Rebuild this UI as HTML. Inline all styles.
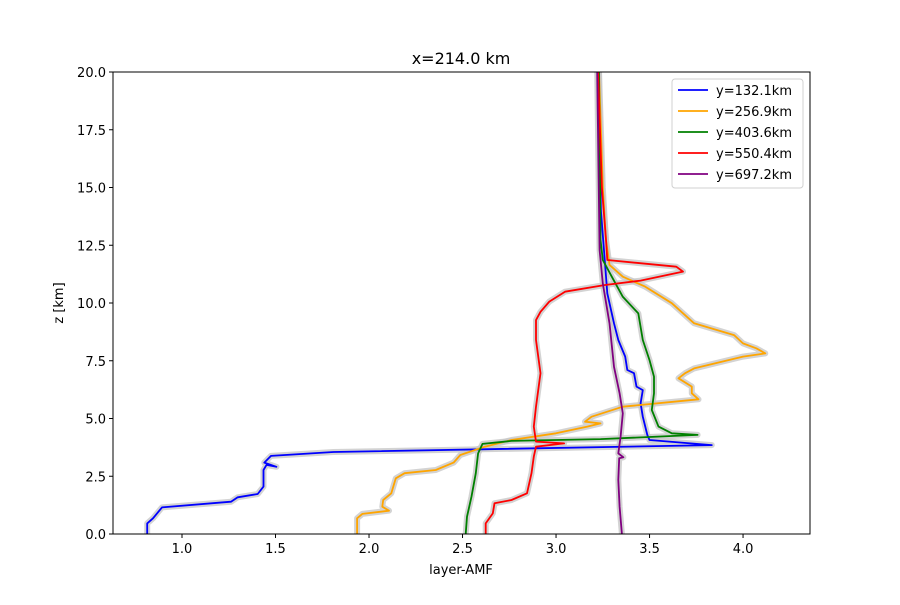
<!DOCTYPE html>
<html><head><meta charset="utf-8"><style>
body{margin:0;background:#fff;font-family:"Liberation Sans","DejaVu Sans",sans-serif;}
svg text{font-family:"DejaVu Sans","Liberation Sans",sans-serif;}
</style></head><body>
<svg id="chart" width="900" height="600" viewBox="0 0 900 600" xmlns="http://www.w3.org/2000/svg">
<rect width="900" height="600" fill="#fff"/>
<g id="plot"></g>
<g id="axes"></g>
<text x="461" y="64" text-anchor="middle" font-size="16">x=214.0 km</text>
<text x="461" y="574" text-anchor="middle" font-size="13">layer-AMF</text>
<text transform="translate(63,303) rotate(-90)" text-anchor="middle" font-size="13">z [km]</text>
<g id="legend"></g>
</svg>
<script>
const seriesNames=["y=132.1km","y=256.9km","y=403.6km","y=550.4km","y=697.2km"];
const seriesColors=["blue","orange","green","red","purple"];
const blueAmf=[0.814,0.814,0.845,0.893,1.262,1.298,1.405,1.436,1.436,1.452,1.505,1.44,1.476,1.81,3.833,3.5,3.488,3.464,3.452,3.464,3.43,3.417,3.381,3.37,3.333,3.31,3.274,3.262,3.24,3.228];
const blueZ=[0,0.46,0.68,1.15,1.40,1.59,1.73,2.05,2.77,2.99,2.91,3.09,3.38,3.55,3.85,4.07,4.29,5.08,5.66,6.23,6.38,6.96,7.10,7.68,8.40,9.12,10.42,11.72,14,20];
const orangeAmf=[1.936,1.936,1.964,2.107,2.071,2.076,2.119,2.143,2.19,2.357,2.452,2.488,2.619,2.762,3.0,3.167,3.238,3.155,3.19,3.357,3.762,3.726,3.726,3.655,3.69,3.738,4.0,4.119,4.071,4.0,3.952,3.738,3.619,3.476,3.357,3.286,3.267,3.25,3.23];
const orangeZ=[0,0.68,0.87,1.01,1.18,1.47,1.76,2.41,2.63,2.77,3.09,3.42,3.78,4.07,4.36,4.65,4.79,4.86,5.08,5.51,5.83,6.09,6.38,6.74,6.96,7.17,7.68,7.82,8.04,8.25,8.61,9.12,9.99,10.71,11.14,11.65,12.73,15,20];
const greenAmf=[2.517,2.524,2.548,2.571,2.583,2.607,2.762,3.238,3.757,3.619,3.548,3.512,3.524,3.524,3.5,3.464,3.44,3.357,3.298,3.25,3.238,3.23];
const greenZ=[0,0.75,1.62,2.63,3.49,3.90,4.03,4.11,4.29,4.36,4.65,5.37,6.09,6.81,7.53,8.40,9.55,10.27,11.14,11.86,12.73,20];
const redAmf=[2.624,2.624,2.662,2.671,2.762,2.845,2.869,2.881,2.893,3.043,2.893,2.881,2.893,2.917,2.893,2.893,2.917,2.964,3.048,3.262,3.452,3.679,3.643,3.274,3.267,3.245,3.225];
const redZ=[0,0.46,0.89,1.33,1.47,1.76,2.63,3.35,3.78,3.92,4.00,4.65,5.51,6.96,8.40,9.26,9.62,10.06,10.49,10.78,10.97,11.36,11.57,11.86,12.73,15,20];
const purpleAmf=[3.352,3.34,3.333,3.338,3.36,3.333,3.345,3.357,3.34,3.31,3.286,3.25,3.233,3.22];
const purpleZ=[0,1.18,2.34,3.28,3.32,3.49,4.21,5.22,6.09,7.24,9.12,10.85,12.29,20];
const xTicks=[1.0,1.5,2.0,2.5,3.0,3.5,4.0];
const yTicks=[0,2.5,5,7.5,10,12.5,15,17.5,20];
const allAmf=[blueAmf,orangeAmf,greenAmf,redAmf,purpleAmf];
const allZ=[blueZ,orangeZ,greenZ,redZ,purpleZ];

const L=113,R=810,T=72,B=534,xmin=0.631,xmax=4.358,zmin=0,zmax=20;
const sx=v=>L+(v-xmin)/(xmax-xmin)*(R-L);
const sy=v=>B-(v-zmin)/(zmax-zmin)*(B-T);
const NS="http://www.w3.org/2000/svg";
const mk=(t,a,p)=>{const e=document.createElementNS(NS,t);for(const k in a)e.setAttribute(k,a[k]);p.appendChild(e);return e;};
const plot=document.getElementById('plot'),axes=document.getElementById('axes'),leg=document.getElementById('legend');

allAmf.forEach((xs,i)=>{
  const d=xs.map((v,j)=>(j?'L':'M')+sx(v).toFixed(1)+' '+sy(allZ[i][j]).toFixed(1)).join(' ');
  const g=mk('path',{d:d,fill:'none',stroke:'#c8c8c8','stroke-width':6,'stroke-linejoin':'round',opacity:0.8},plot);
  
  
});
allAmf.forEach((xs,i)=>{
  const d=xs.map((v,j)=>(j?'L':'M')+sx(v).toFixed(1)+' '+sy(allZ[i][j]).toFixed(1)).join(' ');
  const p=mk('path',{d:d,fill:'none',stroke:seriesColors[i],'stroke-width':1.8,'stroke-linejoin':'round'},plot);
  
  
});
const fr=mk('rect',{x:L,y:T,width:R-L,height:B-T,fill:'none',stroke:'#000','stroke-width':1},axes);


xTicks.forEach(t=>{
  const x=sx(t);
  mk('line',{x1:x,x2:x,y1:B,y2:B+4,stroke:'#000'},axes);
  const tx=mk('text',{x:x,y:B+19,'text-anchor':'middle','font-size':13},axes);
  tx.textContent=t.toFixed(1);
  
  
});
yTicks.forEach(t=>{
  const y=sy(t);
  mk('line',{x1:L-4,x2:L,y1:y,y2:y,stroke:'#000'},axes);
  const tx=mk('text',{x:L-7,y:y+5,'text-anchor':'end','font-size':13},axes);
  tx.textContent=t.toFixed(1);
  
  
});
const lb=mk('rect',{x:672,y:79,width:131,height:109,rx:3,fill:'#fff',stroke:'#d0d0d0'},leg);


seriesNames.forEach((n,i)=>{
  const y=90+i*21;
  const g=mk('g',{},leg);
  
  
  mk('line',{x1:678,x2:708,y1:y,y2:y,stroke:seriesColors[i],'stroke-width':1.8},g);
  const t=mk('text',{x:716,y:y+5,'font-size':13},g);
  t.textContent=n;
});
</script>
</body></html>
